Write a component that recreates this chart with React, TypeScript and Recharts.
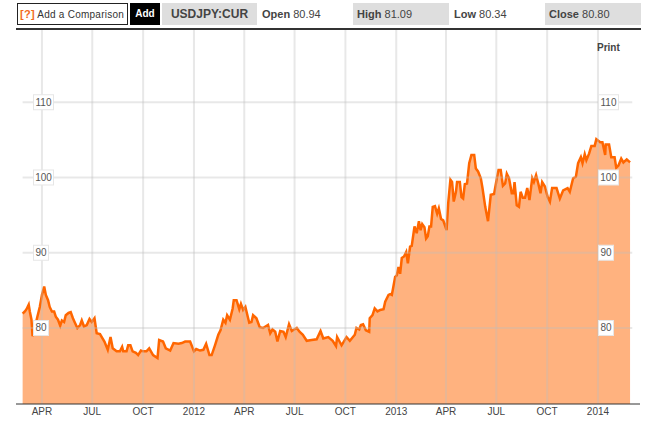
import { ComposedChart, Area, XAxis, YAxis, ReferenceLine } from 'recharts';

// x values are days counted from 1 Jan 2011
const days2011 = [55, 59, 62, 66, 68, 71, 73, 77, 81, 86, 90, 94, 97, 101, 104, 108, 112, 115, 119, 123, 126, 130, 133, 138, 142, 146, 149, 154, 159, 162, 166, 171, 176, 180, 185, 189, 195, 199, 203, 209, 214, 218, 225, 231, 235, 237, 243, 246, 250, 254, 260, 264, 269, 273, 279, 284, 291, 299, 302, 309, 314, 322, 328, 337, 343, 349, 358];
const values2011 = [81.9, 82.2, 82.5, 83.1, 82.2, 81.1, 78.9, 80, 81.3, 82.8, 84.4, 85.5, 84.4, 83.7, 82.8, 82.2, 82.2, 81.5, 81.1, 80.3, 81, 80.8, 81.7, 82, 82.1, 81.3, 80.8, 80, 80.4, 81, 80.2, 80.4, 81.2, 80.8, 81.3, 79.3, 79.2, 78.7, 78.2, 77.1, 78.8, 77.3, 76.9, 76.9, 77.5, 76.9, 76.9, 77.7, 77.7, 76.9, 76.7, 76.4, 77, 76.9, 76.9, 77.3, 76.4, 76, 78.4, 78.2, 77.3, 77, 78, 77.9, 78, 78.2, 78.2];

const days2012 = [365, 369, 376, 382, 387, 393, 397, 403, 409, 413, 418, 422, 425, 430, 435, 437, 442, 447, 450, 454, 458, 465, 469, 472, 478, 484, 490, 499, 503, 507, 512, 516, 521, 527, 531, 537, 542, 551, 556, 562, 569, 578, 587, 594, 599, 608, 616, 622, 624, 632, 641, 647, 656, 659, 664, 667, 671, 676, 682, 683, 688, 692, 697, 702, 708, 711, 717, 720, 723, 729];
const values2012 = [76.9, 77.2, 77, 77.1, 77.9, 76.4, 76.4, 77.7, 79.1, 79.7, 81.1, 80.7, 81.7, 81.1, 82.6, 83.7, 83.7, 82.5, 83.2, 82.4, 82.8, 80.7, 80.8, 81.7, 81.3, 80.1, 80, 80.4, 79.3, 79.8, 79.5, 78.2, 79.6, 79.5, 78.8, 80.5, 79.6, 80, 79.5, 79.1, 78.3, 78.4, 78.5, 79.6, 78.6, 78.8, 78.3, 77.6, 78.8, 77.7, 78.8, 78.3, 79.1, 80, 79.8, 80.4, 80.5, 79.7, 79.5, 81.3, 81.7, 82.6, 82.2, 82.4, 82.5, 83.5, 84.4, 84.5, 84.4, 86.8];

const days2013 = [732, 735, 738, 741, 745, 749, 752, 756, 759, 764, 768, 772, 775, 778, 782, 785, 788, 791, 794, 797, 801, 805, 808, 812, 816, 822, 825, 829, 832, 835, 839, 841, 846, 849, 852, 855, 859, 863, 867, 872, 875, 879, 884, 887, 892, 897, 902, 908, 913, 916, 920, 924, 928, 931, 935, 940, 943, 945, 949, 953, 956, 960, 964, 968, 972, 977, 980, 984, 988, 992, 995, 1000, 1005, 1009, 1013, 1021, 1027, 1033, 1041, 1045, 1051, 1056, 1060, 1065, 1068, 1072, 1075, 1080, 1084, 1090, 1093];
const values2013 = [87, 88.1, 87.2, 89.3, 89.5, 90.1, 88.6, 90.8, 90.9, 93.5, 92.6, 94.2, 93, 93.8, 93.4, 91.9, 92.2, 93.5, 93.5, 96.1, 96.2, 95.2, 95.9, 94.5, 94.3, 93, 96.6, 99.7, 99.4, 96.8, 98.1, 99.4, 99.4, 97.4, 97.2, 99.1, 99.2, 101.9, 103, 103, 101.2, 100.8, 99.9, 98.6, 96.1, 94.2, 97.7, 97.8, 99.9, 101, 101, 98.9, 99.2, 100.5, 99.9, 97.9, 97.9, 99.4, 96.3, 96.1, 98.1, 97.3, 97.3, 98.6, 97, 99.9, 99.4, 100.3, 99.2, 97.9, 99.4, 98.8, 97.4, 96.8, 98.6, 98.6, 97.2, 98.3, 98.6, 98.1, 99.9, 100.1, 101.9, 102.7, 101.9, 103.1, 102.3, 103.2, 104.2, 104.2, 105.1];

const days2014 = [1100, 1104, 1109, 1110, 1116, 1120, 1126, 1129, 1133, 1138, 1142, 1148, 1154];
const values2014 = [104.7, 104.7, 103, 104.4, 104.4, 102.7, 102.7, 101.3, 101.6, 102.5, 102, 102.4, 102];

const monthTicks = [90, 181, 273, 365, 456, 547, 639, 731, 821, 912, 1004, 1096];
const monthLabels = ['APR', 'JUL', 'OCT', '2012', 'APR', 'JUL', 'OCT', '2013', 'APR', 'JUL', 'OCT', '2014'];
const priceTicks = [80, 90, 100, 110];

const allDays = [...days2011, ...days2012, ...days2013, ...days2014];
const allValues = [...values2011, ...values2012, ...values2013, ...values2014];
const chartData = allDays.map((day, i) => ({ day, price: allValues[i] }));

const font = '"Liberation Sans", Arial, sans-serif';
const gridStroke = '#bebebe';

const PriceTick = ({ y, payload, boxLeft }: any) => {
  const wide = payload.value >= 100;
  const w = wide ? 20 : 15;
  return (
    <g>
      <rect x={boxLeft + 0.5} y={y - 7.5} width={w} height={15} fill="#fff" stroke="#e6e6e6" />
      <text x={boxLeft + 0.5 + w / 2} y={y + 3.5} textAnchor="middle" fontSize={10} fill="#555" fontFamily={font}>
        {payload.value}
      </text>
    </g>
  );
};

const Stat = ({ left, label, value, shaded }: any) => (
  <div
    style={{
      position: 'absolute',
      left,
      top: 3,
      width: 96,
      height: 22,
      lineHeight: '22px',
      paddingLeft: shaded ? 4 : 0,
      boxSizing: 'border-box',
      background: shaded ? '#dedede' : 'transparent',
      fontSize: 11,
      color: '#444',
      whiteSpace: 'nowrap',
    }}
  >
    <b>{label}</b> {value}
  </div>
);

export default function App() {
  return (
    <div style={{ position: 'absolute', left: 0, top: 0, width: 651, height: 424, background: '#fff', fontFamily: font }}>
      <div
        style={{
          position: 'absolute',
          left: 17,
          top: 3,
          width: 111,
          height: 22,
          boxSizing: 'border-box',
          border: '1px solid #222',
          lineHeight: '20px',
          fontSize: 10,
          letterSpacing: 0.25,
          color: '#333',
          whiteSpace: 'nowrap',
          paddingLeft: 2,
        }}
      >
        <span style={{ color: '#f26a1b', fontWeight: 'bold', fontSize: 11 }}>[?]</span> Add a Comparison
      </div>
      <div
        style={{
          position: 'absolute',
          left: 130,
          top: 3,
          width: 30,
          height: 22,
          lineHeight: '22px',
          background: '#000',
          color: '#fff',
          fontSize: 10,
          fontWeight: 'bold',
          textAlign: 'center',
        }}
      >
        Add
      </div>
      <div
        style={{
          position: 'absolute',
          left: 162,
          top: 3,
          width: 95,
          height: 22,
          lineHeight: '22px',
          background: '#dedede',
          color: '#444',
          fontSize: 12,
          fontWeight: 'bold',
          textAlign: 'center',
        }}
      >
        USDJPY:CUR
      </div>
      <Stat left={262} label="Open" value="80.94" />
      <Stat left={353} label="High" value="81.09" shaded />
      <Stat left={454} label="Low" value="80.34" />
      <Stat left={545} label="Close" value="80.80" shaded />
      <div style={{ position: 'absolute', left: 16, top: 28, width: 625, height: 2, background: '#333', zIndex: 2 }} />
      <div style={{ position: 'absolute', left: 597, top: 42, fontSize: 10, fontWeight: 'bold', color: '#444', zIndex: 2 }}>
        Print
      </div>

      <div style={{ position: 'absolute', left: 0, top: 0 }}>
        <ComposedChart
          width={651}
          height={424}
          data={chartData}
          margin={{ top: 30, right: 10, bottom: 0, left: 15 }}
        >
          <XAxis
            type="number"
            dataKey="day"
            domain={[43, 1172]}
            ticks={monthTicks}
            interval={0}
            height={20}
            tickLine={false}
            tickSize={0}
            tickMargin={4}
            axisLine={{ stroke: '#333', strokeWidth: 1 }}
            tick={{ fontSize: 10, fill: '#444', fontFamily: font }}
            tickFormatter={(v: number) => monthLabels[monthTicks.indexOf(v)]}
          />
          <YAxis
            yAxisId="left"
            domain={[69.9, 119.6]}
            allowDataOverflow
            ticks={priceTicks}
            width={1}
            axisLine={false}
            tickLine={false}
            tick={<PriceTick boxLeft={33} />}
          />
          <YAxis
            yAxisId="right"
            orientation="right"
            domain={[69.9, 119.6]}
            allowDataOverflow
            ticks={priceTicks}
            width={1}
            axisLine={false}
            tickLine={false}
            tick={<PriceTick boxLeft={598} />}
          />
          <Area
            yAxisId="left"
            type="linear"
            dataKey="price"
            stroke="#ff6600"
            strokeWidth={2.5}
            fill="#ff6600"
            fillOpacity={0.5}
            dot={false}
            activeDot={false}
            isAnimationActive={false}
          />
          {monthTicks.map((t) => (
            <ReferenceLine key={t} yAxisId="left" x={t} stroke={gridStroke} strokeOpacity={0.35} strokeWidth={2} />
          ))}
          {priceTicks.map((p) => (
            <ReferenceLine
              key={p}
              yAxisId="left"
              segment={[
                { x: 55, y: p },
                { x: 1158, y: p },
              ]}
              stroke={gridStroke}
              strokeOpacity={0.35}
              strokeWidth={2}
            />
          ))}
        </ComposedChart>
      </div>
    </div>
  );
}
